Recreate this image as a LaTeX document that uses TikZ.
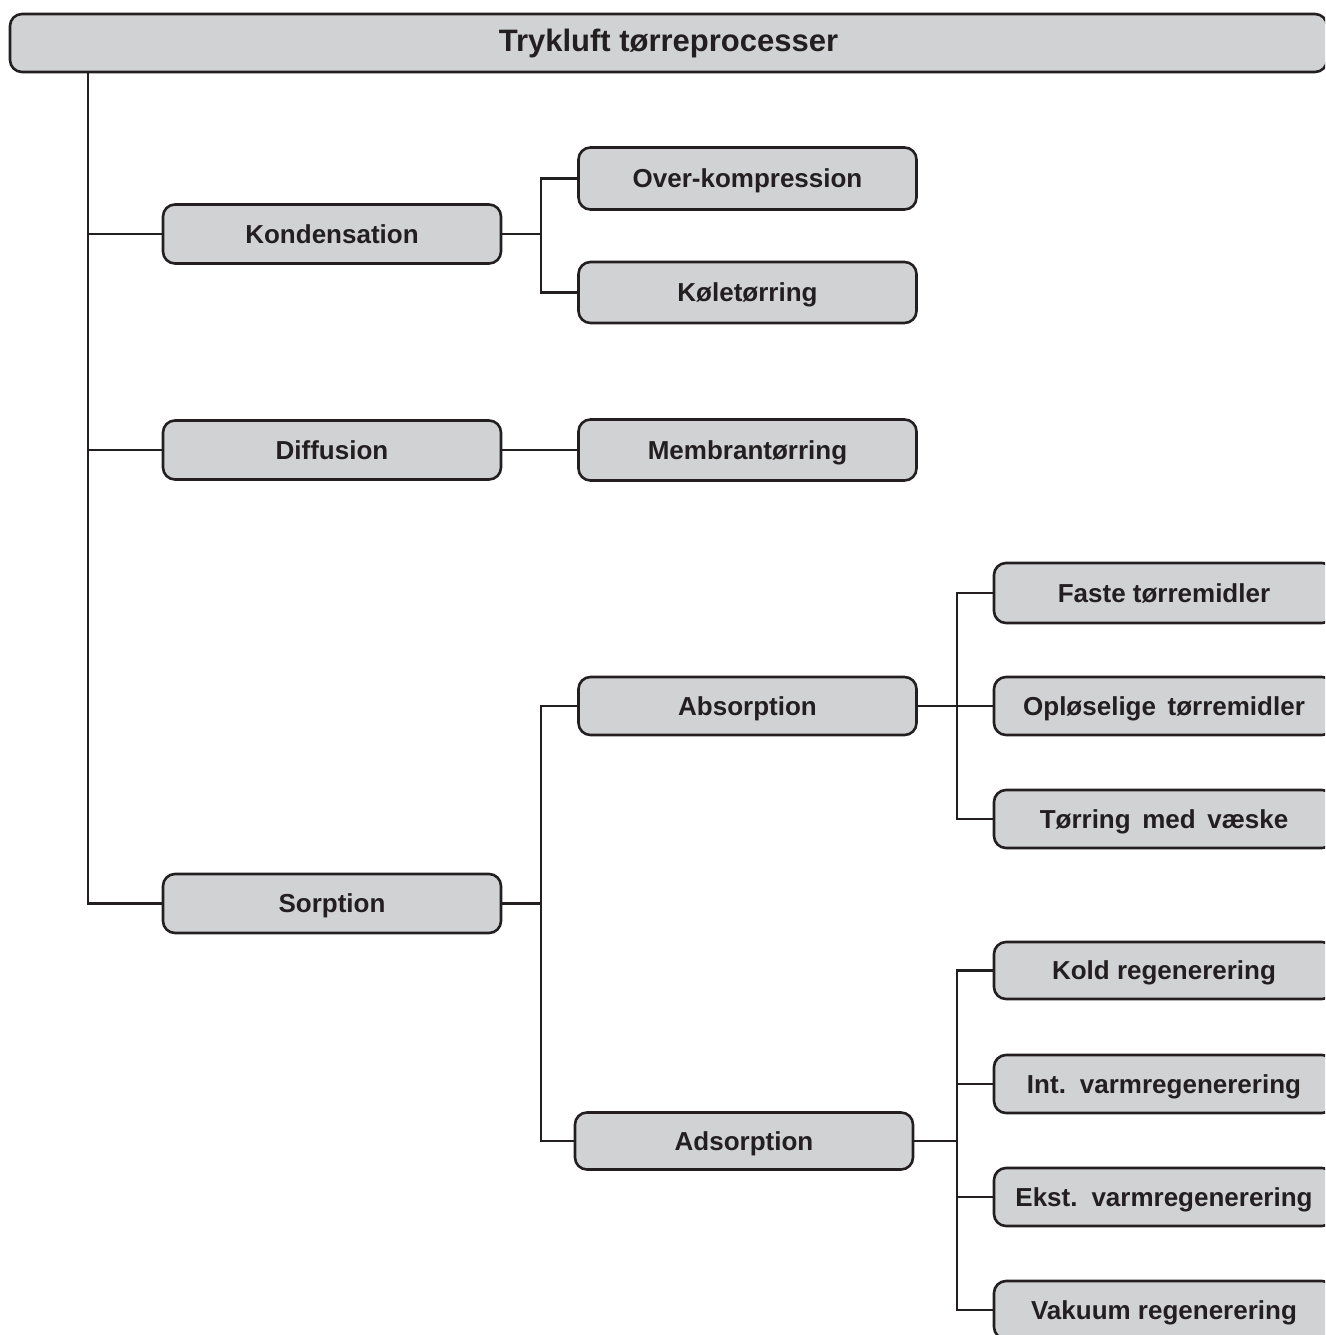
\documentclass[tikz,border=0pt]{standalone}
\usepackage{fontspec}
\setmainfont{Liberation Sans}
\definecolor{boxfill}{HTML}{D1D2D4}
\definecolor{ink}{HTML}{231F20}
\begin{document}
\begin{tikzpicture}[x=1pt,y=-1pt,
  procbox/.style={draw=ink, fill=boxfill, line width=2.6pt, rounded corners=12pt,
    inner sep=0pt, minimum width=338pt, minimum height=59pt,
    font=\fontsize{26}{26}\selectfont\bfseries, text=ink,
    text height=18.6pt, text depth=0pt},
  titlebox/.style={procbox, minimum width=1317pt, minimum height=58pt,
    font=\fontsize{31}{31}\selectfont\bfseries, text height=22.2pt, text depth=6pt},
  link/.style={draw=ink, line width=2.4pt}]
\useasboundingbox (0,0) rectangle (1325,1335);
\clip (0,0) rectangle (1325,1335);

% top heading
\node[titlebox] (title) at (668.5,43) {Trykluft tørreprocesser};

% first level
\node[procbox] (kond) at (332,234) {Kondensation};
\node[procbox] (diff) at (332,450) {Diffusion};
\node[procbox] (sorp) at (332,903.5) {Sorption};

% second level
\node[procbox, minimum height=62pt] (over) at (747.5,178.5) {Over-kompression};
\node[procbox, minimum height=61pt] (kole) at (747.5,292.5) {Køletørring};
\node[procbox, minimum height=61pt] (memb) at (747.5,450) {Membrantørring};
\node[procbox, minimum height=58pt] (abso) at (747.5,706) {Absorption};
\node[procbox, minimum height=57pt] (adso) at (744,1141) {Adsorption};

% third level (running off the right edge)
\node[procbox, minimum width=340pt, minimum height=60pt] (faste) at (1164,593) {Faste tørremidler};
\node[procbox, minimum width=340pt, minimum height=58pt] (oplo) at (1164,706) {Opløselige\, tørremidler};
\node[procbox, minimum width=340pt, minimum height=58pt] (torr) at (1164,819) {Tørring\, med\, væske};
\node[procbox, minimum width=340pt, minimum height=57pt] (kold) at (1164,970.5) {Kold regenerering};
\node[procbox, minimum width=340pt, minimum height=58pt] (intv) at (1164,1084) {Int.\, varmregenerering};
\node[procbox, minimum width=340pt, minimum height=58pt] (ekst) at (1164,1197) {Ekst.\, varmregenerering};
\node[procbox, minimum width=340pt, minimum height=58pt] (vaku) at (1164,1310) {Vakuum regenerering};

% branch lines
\coordinate (trunk) at (88,0);
\coordinate (b1) at (541,0);
\coordinate (b2) at (957,0);

\draw[link] (trunk |- title.south) -- (trunk |- sorp.west) -- (sorp.west);
\draw[link] (trunk |- kond.west) -- (kond.west);
\draw[link] (trunk |- diff.west) -- (diff.west);

\draw[link] (kond.east) -- (b1 |- kond.east);
\draw[link] (over.west) -- (b1 |- over.west) -- (b1 |- kole.west) -- (kole.west);

\draw[link] (diff.east) -- (memb.west);

\draw[link] (sorp.east) -- (b1 |- sorp.east);
\draw[link] (abso.west) -- (b1 |- abso.west) -- (b1 |- adso.west) -- (adso.west);

\draw[link] (abso.east) -- (oplo.west);
\draw[link] (faste.west) -- (b2 |- faste.west) -- (b2 |- torr.west) -- (torr.west);

\draw[link] (adso.east) -- (b2 |- adso.east);
\draw[link] (kold.west) -- (b2 |- kold.west) -- (b2 |- vaku.west) -- (vaku.west);
\draw[link] (intv.west) -- (b2 |- intv.west);
\draw[link] (ekst.west) -- (b2 |- ekst.west);
\end{tikzpicture}
\end{document}
